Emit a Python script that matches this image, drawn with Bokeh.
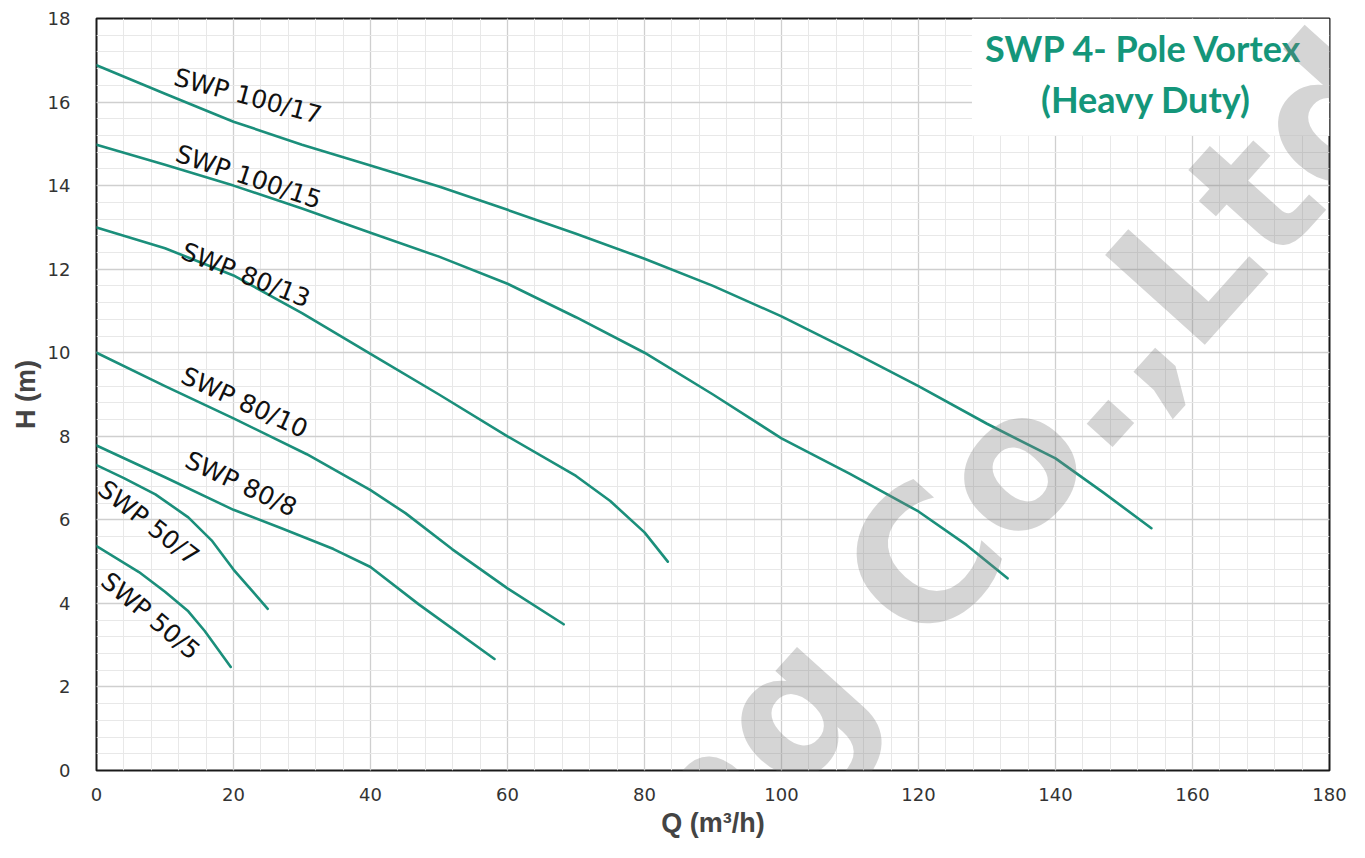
from bokeh.plotting import figure
from bokeh.models import Range1d, Label, SingleIntervalTicker
from bokeh.embed import file_html
from bokeh.resources import INLINE

# ---- data ----
q_100_17 = [0, 10, 20, 30, 40, 50, 60, 70, 80, 90, 100, 110, 120, 130, 140, 147, 154]
h_100_17 = [16.88, 16.2, 15.53, 14.98, 14.48, 13.98, 13.42, 12.85, 12.25, 11.6, 10.87, 10.05, 9.2, 8.3, 7.47, 6.65, 5.8]

q_100_15 = [0, 10, 20, 30, 40, 50, 60, 70, 80, 90, 100, 110, 120, 127, 133]
h_100_15 = [14.98, 14.5, 14.0, 13.45, 12.87, 12.3, 11.65, 10.85, 10.0, 9.0, 7.95, 7.1, 6.2, 5.4, 4.6]

q_80_13 = [0, 10, 20, 30, 40, 50, 60, 70, 75, 80, 83.4]
h_80_13 = [13.0, 12.5, 11.85, 10.95, 9.97, 9.0, 8.0, 7.05, 6.45, 5.7, 5.0]

q_80_10 = [0, 10, 20, 30.7, 40, 45.1, 51.9, 60, 68.2]
h_80_10 = [10.0, 9.2, 8.43, 7.57, 6.71, 6.16, 5.3, 4.36, 3.5]

q_80_8 = [0, 10, 20, 27, 34.6, 40, 47.1, 58.1]
h_80_8 = [7.78, 7.02, 6.24, 5.8, 5.3, 4.87, 3.97, 2.67]

q_50_7 = [0, 4, 8.6, 13.4, 16.8, 20, 25]
h_50_7 = [7.31, 7.0, 6.61, 6.06, 5.51, 4.81, 3.87]

q_50_5 = [0, 6.2, 10, 13.4, 15.8, 19.6]
h_50_5 = [5.37, 4.75, 4.28, 3.81, 3.34, 2.48]

series_names = ["SWP 100/17", "SWP 100/15", "SWP 80/13", "SWP 80/10", "SWP 80/8", "SWP 50/7", "SWP 50/5"]
series_q = [q_100_17, q_100_15, q_80_13, q_80_10, q_80_8, q_50_7, q_50_5]
series_h = [h_100_17, h_100_15, h_80_13, h_80_10, h_80_8, h_50_7, h_50_5]

# label anchor (data coords) and angle (deg)
label_q = [22.1, 22.2, 21.8, 21.6, 21.1, 7.6, 7.9]
label_h = [16.14, 14.21, 11.86, 8.81, 6.86, 5.93, 3.7]
label_angle = [-15, -18.5, -21.5, -24.5, -25, -38, -40]

title_lines = ["SWP 4- Pole Vortex", "(Heavy Duty)"]
x_label = "Q (m³/h)"
y_label = "H (m)"
watermark = "ng Co.,Ltd"

LINE_COLOR = "#1b8f7b"
TITLE_COLOR = "#14967a"

p = figure(width=1349, height=842,
           x_range=Range1d(0, 180), y_range=Range1d(0, 18),
           output_backend="svg", toolbar_location=None,
           min_border_left=96, min_border_right=20,
           min_border_top=18, min_border_bottom=72)

p.background_fill_color = "white"
p.border_fill_color = "white"
p.outline_line_color = "#1a1a1a"
p.outline_line_width = 2

p.xaxis.ticker = SingleIntervalTicker(interval=20, num_minor_ticks=5)
p.yaxis.ticker = SingleIntervalTicker(interval=2, num_minor_ticks=5)

for ax in (p.xaxis, p.yaxis):
    ax.axis_line_color = None
    ax.major_tick_line_color = None
    ax.minor_tick_line_color = None
    ax.major_label_text_font = "DejaVu Sans"
    ax.major_label_text_font_size = "18px"
    ax.major_label_text_color = "#333333"
    ax.axis_label_text_font = "Liberation Sans"
    ax.axis_label_text_font_style = "bold"
    ax.axis_label_text_font_size = "27px"
    ax.axis_label_text_color = "#444444"

p.xaxis.axis_label = x_label
p.yaxis.axis_label = y_label
p.xaxis.major_label_standoff = 11
p.xaxis.axis_label_standoff = 4
p.yaxis.major_label_standoff = 20
p.yaxis.axis_label_standoff = 4

for g in (p.xgrid, p.ygrid):
    g.grid_line_color = "#cfcfcf"
    g.grid_line_width = 1.3
    g.minor_grid_line_color = "#e8e8e8"
    g.minor_grid_line_width = 1

# white box behind the title
p.quad(left=127.8, right=180, bottom=15.2, top=18, fill_color="white", line_color=None)

for q, h in zip(series_q, series_h):
    p.line(q, h, line_color=LINE_COLOR, line_width=2.6, line_join="round", line_cap="round")

for name, lq, lh, ang in zip(series_names, label_q, label_h, label_angle):
    p.add_layout(Label(x=lq, y=lh, text=name, angle=ang, angle_units="deg",
                       text_align="center", text_baseline="middle",
                       text_font="DejaVu Sans", text_font_size="25px",
                       text_color="#111111"))

p.add_layout(Label(x=152.9, y=17.3, text=title_lines[0], text_align="center", text_baseline="middle",
                   text_font="Lato", text_font_style="bold", text_font_size="36px",
                   text_color=TITLE_COLOR))
p.add_layout(Label(x=153.2, y=16.08, text=title_lines[1], text_align="center", text_baseline="middle",
                   text_font="Lato", text_font_style="bold", text_font_size="36px",
                   text_color=TITLE_COLOR))

p.add_layout(Label(x=134.1, y=7.44, text=watermark, angle=48, angle_units="deg",
                   text_align="center", text_baseline="middle",
                   text_font="DejaVu Sans", text_font_style="bold", text_font_size="184px",
                   text_color="#808080", text_alpha=0.33, level="overlay"))

open("out.html", "w").write(file_html(p, INLINE))
